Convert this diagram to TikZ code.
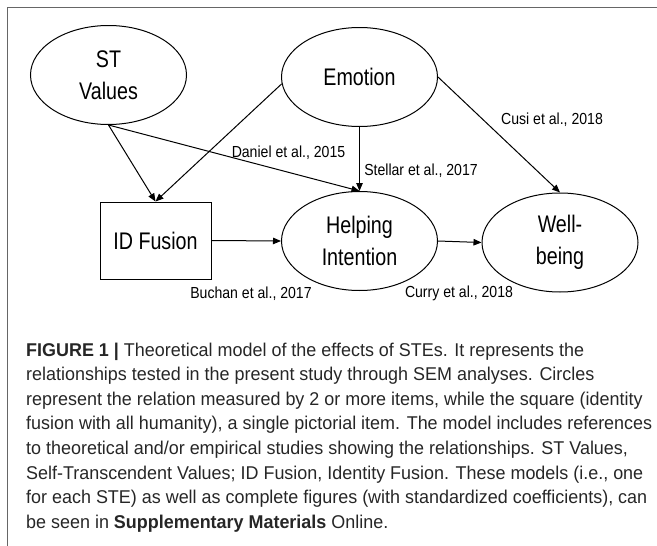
\documentclass[tikz,border=0pt]{standalone}
\usepackage{fontspec}
\setmainfont{Liberation Sans}
\newfontfamily\nodefont{Liberation Sans}[FakeStretch=0.82]
\newfontfamily\labfont{Liberation Sans}[FakeStretch=0.88]
\newfontfamily\capfont{Liberation Sans}[FakeStretch=0.97]
\usetikzlibrary{shapes.geometric,arrows.meta}
\tikzset{
  ell/.style={ellipse, draw, line width=1pt, minimum width=156pt, minimum height=99pt, inner sep=0pt, align=center, font=\nodefont\fontsize{24}{32}\selectfont},
  boxnode/.style={rectangle, draw, line width=1pt, minimum width=111pt, minimum height=77pt, inner sep=0pt, font=\nodefont\fontsize{24}{32}\selectfont},
  arr/.style={-{Triangle[length=8pt,width=6.5pt]}, line width=1pt},
  lab/.style={anchor=base, inner sep=0pt, font=\labfont\fontsize{16}{19}\selectfont},
  capline/.style={anchor=base west, inner sep=0pt, text=black!85, font=\capfont\fontsize{18.5}{24.6}\selectfont},
  frame/.style={draw=black!60, line width=1pt}
}
\begin{document}
\begin{tikzpicture}[x=1pt,y=-1pt]
\useasboundingbox (0,0) rectangle (657,546);
\coordinate (fr1) at (657,7);
\coordinate (fr2) at (7,7);
\coordinate (fr3) at (7,546);
\draw[frame] (fr1) -- (fr2) -- (fr3);

\node[ell] (st) at (108.5,75) {ST\\Values};
\node[ell] (em) at (359.5,77) {Emotion};
\node[boxnode] (id) at (155.5,240.5) {ID Fusion};
\node[ell] (help) at (359.5,241) {Helping\\Intention};
\node[ell] (well) at (560,242.5) {Well-\\being};

\draw[arr] (st.south) -- (id.north);
\draw[arr] (em.185) -- (id.north);
\draw[arr] (st.south) -- (help.north);
\draw[arr] (em.south) -- (help.north);
\draw[arr] (em.east) -- (well.north);
\draw[arr] (id.east) -- (help.west);
\draw[arr] (help.east) -- (well.west);

\node[lab] (l1) at (288.5,157) {Daniel et al., 2015};
\node[lab] (l2) at (421,175) {Stellar et al., 2017};
\node[lab] (l3) at (552,124) {Cusi et al., 2018};
\node[lab] (l4) at (251,298) {Buchan et al., 2017};
\node[lab] (l5) at (459,297) {Curry et al., 2018};

\node[capline] (c1) at (26,356) {\textbf{FIGURE 1 |} Theoretical model of the effects of STEs. It represents the};
\node[capline] (c2) at (26,380.6) {relationships tested in the present study through SEM analyses. Circles};
\node[capline] (c3) at (26,405.2) {represent the relation measured by 2 or more items, while the square (identity};
\node[capline] (c4) at (26,429.8) {fusion with all humanity), a single pictorial item. The model includes references};
\node[capline] (c5) at (26,454.4) {to theoretical and/or empirical studies showing the relationships. ST Values,};
\node[capline] (c6) at (26,479) {Self-Transcendent Values; ID Fusion, Identity Fusion. These models (i.e., one};
\node[capline] (c7) at (26,503.6) {for each STE) as well as complete figures (with standardized coefficients), can};
\node[capline] (c8) at (26,528.2) {be seen in \textbf{Supplementary Materials} Online.};
\end{tikzpicture}
\end{document}
